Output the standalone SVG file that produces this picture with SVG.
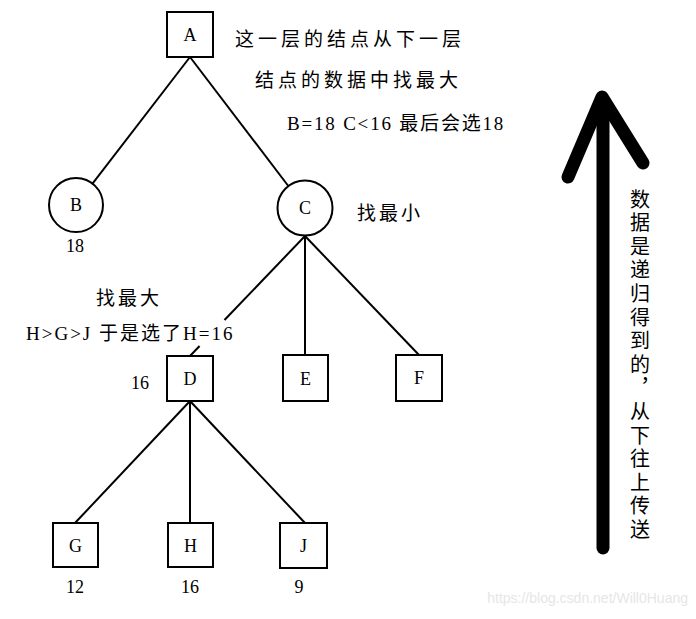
<svg xmlns="http://www.w3.org/2000/svg" width="696" height="619" viewBox="0 0 696 619">
<style>
.n{fill:#fff;stroke:#000;stroke-width:2}
.e{stroke:#000;stroke-width:2;fill:none}
.l{font-family:"Liberation Serif",serif;font-size:18px;fill:#000;text-anchor:middle}
.c{font-family:"Liberation Serif","Noto Sans CJK SC",serif;font-size:19px;fill:#000}
.v{font-family:"Noto Sans CJK SC",sans-serif;font-size:20px;fill:#000;writing-mode:vertical-rl;letter-spacing:3.6px}
</style>
<rect width="696" height="619" fill="#fff"/>
<g id="connectors">
<line class="e" x1="190" y1="57" x2="92.5" y2="183.6"/>
<line class="e" x1="190" y1="57" x2="288.7" y2="186.5"/>
<line class="e" x1="305" y1="236" x2="224.5" y2="320"/>
<line class="e" x1="199.6" y1="346" x2="190" y2="356"/>
<line class="e" x1="305" y1="236" x2="305" y2="355"/>
<line class="e" x1="305" y1="236" x2="419" y2="355"/>
<line class="e" x1="190" y1="401" x2="75" y2="523"/>
<line class="e" x1="190" y1="401" x2="190" y2="523"/>
<line class="e" x1="190" y1="401" x2="305" y2="523"/>
</g>
<g id="A"><rect class="n" x="167" y="12" width="46" height="45"/><text class="l" x="190" y="41">A</text></g>
<g id="B"><circle class="n" cx="76" cy="205" r="27"/><text class="l" x="76" y="211">B</text><text class="l" x="75" y="252">18</text></g>
<g id="C"><circle class="n" cx="305" cy="208" r="27.5"/><text class="l" x="305" y="214">C</text></g>
<g id="D"><rect class="n" x="167" y="356" width="46" height="45"/><text class="l" x="190" y="385">D</text><text class="l" x="140" y="389">16</text></g>
<g id="E"><rect class="n" x="283" y="355" width="45" height="46"/><text class="l" x="305.5" y="385">E</text></g>
<g id="F"><rect class="n" x="396" y="355" width="46" height="46"/><text class="l" x="419" y="384">F</text></g>
<g id="G"><rect class="n" x="53" y="523" width="45" height="44"/><text class="l" x="75.5" y="552">G</text><text class="l" x="75" y="593">12</text></g>
<g id="H"><rect class="n" x="168" y="523" width="45" height="44"/><text class="l" x="190.5" y="552">H</text><text class="l" x="190" y="593">16</text></g>
<g id="J"><rect class="n" x="280" y="523" width="47" height="45"/><text class="l" x="303.5" y="552">J</text><text class="l" x="299" y="593">9</text></g>
<g id="notes">
<text class="c" x="235" y="46" letter-spacing="4">这一层的结点从下一层</text>
<text class="c" x="255" y="87" letter-spacing="4">结点的数据中找最大</text>
<text class="c" x="287" y="130" letter-spacing="1.8">B=18 C&lt;16 最后会选18</text>
<text class="c" x="357" y="220" letter-spacing="3">找最小</text>
<text class="c" x="96" y="305" letter-spacing="3">找最大</text>
<text class="c" x="26" y="340" letter-spacing="2">H&gt;G&gt;J 于是选了H=16</text>
</g>
<g id="arrow">
<line x1="603" y1="102" x2="603" y2="548" stroke="#000" stroke-width="13" stroke-linecap="round"/>
<polyline points="568,177 602,97 643,163" fill="none" stroke="#000" stroke-width="13" stroke-linecap="round" stroke-linejoin="round"/>
<text class="v" x="640" y="189">数据是递归得到的，从下往上传送</text>
</g>
<text x="688" y="603" font-family="Liberation Sans,sans-serif" font-size="14" fill="#e6e6e6" text-anchor="end">https://blog.csdn.net/Will0Huang</text>
</svg>
